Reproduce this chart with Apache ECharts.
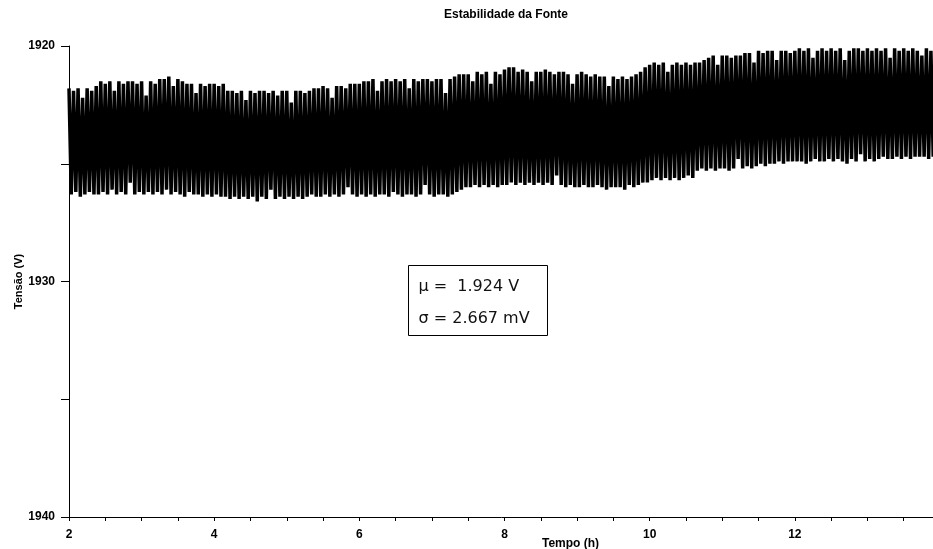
<!DOCTYPE html>
<html>
<head>
<meta charset="utf-8">
<script src="https://cdn.jsdelivr.net/npm/echarts@6/dist/echarts.min.js"></script>
<style>
  html, body { margin: 0; padding: 0; background: #fff; }
  #chart { width: 933px; height: 549px; }
</style>
</head>
<body>
<div id="chart"></div>
<script>
// amostras a cada 1/32 h, começando em t = 2 h
const t0 = 2;
const dt = 1 / 32;

// Tensão, em blocos de 2 h
const tensao2a4 = [
  1921.8, 1926.3, 1921.9, 1926.2, 1921.8, 1926.4, 1922.2, 1926.3, 1921.8, 1926.2, 1921.9, 1926.3, 1921.7, 1926.3, 1921.5, 1926.2,
  1921.6, 1926.3, 1921.5, 1926.1, 1921.9, 1926.3, 1921.5, 1926.2, 1921.6, 1926.3, 1921.5, 1925.8, 1921.5, 1926.3, 1921.6, 1926.2,
  1921.5, 1926.3, 1922.1, 1926.2, 1921.5, 1926.3, 1921.6, 1926.2, 1921.4, 1926.3, 1921.4, 1926.1, 1921.3, 1926.3, 1921.7, 1926.2,
  1921.4, 1926.3, 1921.5, 1926.4, 1921.6, 1926.2, 1921.6, 1926.3, 1922.0, 1926.3, 1921.6, 1926.4, 1921.7, 1926.3, 1921.6, 1926.4
];
const tensao4a6 = [
  1921.6, 1926.3, 1921.7, 1926.4, 1921.6, 1926.4, 1921.9, 1926.5, 1921.9, 1926.4, 1922.0, 1926.5, 1921.9, 1926.4, 1922.3, 1926.5,
  1921.9, 1926.4, 1922.0, 1926.6, 1921.9, 1926.4, 1921.9, 1926.5, 1922.0, 1926.1, 1921.9, 1926.5, 1922.1, 1926.4, 1921.9, 1926.5,
  1921.9, 1926.4, 1922.4, 1926.5, 1921.9, 1926.4, 1921.9, 1926.5, 1922.0, 1926.4, 1921.9, 1926.3, 1921.8, 1926.4, 1921.8, 1926.4,
  1921.7, 1926.3, 1921.8, 1926.4, 1922.2, 1926.3, 1921.7, 1926.4, 1921.7, 1926.3, 1921.8, 1926.0, 1921.6, 1926.3, 1921.6, 1926.4
];
const tensao6a8 = [
  1921.6, 1926.3, 1921.5, 1926.4, 1921.5, 1926.3, 1921.4, 1926.4, 1921.9, 1926.3, 1921.5, 1926.3, 1921.4, 1926.4, 1921.5, 1926.2,
  1921.4, 1926.3, 1921.5, 1926.4, 1921.4, 1926.3, 1921.8, 1926.3, 1921.4, 1926.4, 1921.5, 1926.3, 1921.4, 1925.9, 1921.4, 1926.3,
  1921.5, 1926.4, 1921.4, 1926.3, 1921.4, 1926.3, 1922.0, 1926.4, 1921.4, 1926.3, 1921.3, 1926.2, 1921.2, 1926.1, 1921.2, 1926.0,
  1921.2, 1926.0, 1921.5, 1925.9, 1921.1, 1926.0, 1921.2, 1925.9, 1921.1, 1926.0, 1921.6, 1925.9, 1921.1, 1926.0, 1921.2, 1925.9
];
const tensao8a10 = [
  1921.0, 1925.9, 1920.9, 1925.8, 1920.9, 1925.9, 1921.1, 1925.8, 1921.0, 1925.9, 1921.1, 1925.8, 1921.5, 1925.9, 1921.1, 1925.8,
  1921.1, 1925.9, 1921.0, 1925.8, 1921.1, 1925.9, 1921.2, 1925.5, 1921.1, 1925.9, 1921.1, 1926.0, 1921.2, 1925.9, 1921.6, 1926.0,
  1921.2, 1926.0, 1921.1, 1925.9, 1921.2, 1926.0, 1921.3, 1926.0, 1921.2, 1925.9, 1921.3, 1926.0, 1921.3, 1926.1, 1921.7, 1926.0,
  1921.3, 1926.0, 1921.4, 1926.0, 1921.3, 1926.1, 1921.4, 1925.9, 1921.3, 1926.0, 1921.2, 1925.9, 1921.1, 1925.8, 1920.9, 1925.8
];
const tensao10a12 = [
  1920.8, 1925.7, 1920.7, 1925.6, 1920.8, 1925.7, 1920.7, 1925.6, 1921.1, 1925.7, 1920.8, 1925.6, 1920.7, 1925.7, 1920.8, 1925.6,
  1920.7, 1925.5, 1920.8, 1925.6, 1920.7, 1925.3, 1920.7, 1925.2, 1920.6, 1925.3, 1920.5, 1925.2, 1920.4, 1925.3, 1920.8, 1925.2,
  1920.4, 1925.2, 1920.4, 1925.3, 1920.5, 1925.2, 1920.4, 1924.8, 1920.4, 1925.2, 1920.3, 1925.1, 1920.3, 1925.2, 1920.7, 1925.1,
  1920.2, 1925.0, 1920.3, 1925.1, 1920.2, 1925.0, 1920.2, 1925.0, 1920.6, 1924.9, 1920.2, 1925.0, 1920.2, 1924.9, 1920.3, 1924.9
];
const tensao12a14 = [
  1920.2, 1924.9, 1920.1, 1924.9, 1920.2, 1925.0, 1920.1, 1924.9, 1920.5, 1924.8, 1920.2, 1924.9, 1920.1, 1924.9, 1920.2, 1924.8,
  1920.1, 1924.9, 1920.2, 1924.8, 1920.1, 1924.9, 1920.6, 1925.0, 1920.2, 1924.8, 1920.1, 1924.9, 1920.1, 1924.6, 1920.2, 1924.9,
  1920.1, 1924.8, 1920.2, 1924.9, 1920.1, 1924.8, 1920.2, 1924.7, 1920.1, 1924.8, 1920.5, 1924.8, 1920.1, 1924.7, 1920.2, 1924.8,
  1920.1, 1924.7, 1920.2, 1924.8, 1920.1, 1924.7, 1920.2, 1924.7, 1920.4, 1924.7, 1920.1, 1924.8, 1920.2, 1924.7, 1920.1, 1924.7
];

const yTicks = [1920, 1930, 1940];
const xTicks = [2, 4, 6, 8, 10, 12, 14];
const textoMedia = 'μ =  1.924 V';
const textoDesvio = 'σ = 2.667 mV';

const tensao = [].concat(tensao2a4, tensao4a6, tensao6a8, tensao8a10, tensao10a12, tensao12a14);
let dados = [];
for (let i = 0; i < tensao.length; i++) {
  dados.push([t0 + i * dt, tensao[i]]);
}

const fonteEixo = '"Liberation Sans", Arial, sans-serif';

let option = {
  backgroundColor: '#fff',
  animation: false,
  title: {
    text: 'Estabilidade da Fonte',
    left: 501,
    top: 4,
    textAlign: 'center',
    textStyle: { fontFamily: fonteEixo, fontSize: 12, fontWeight: 'bold', color: '#000' }
  },
  grid: { left: 69, right: -7, top: 46, bottom: 32, containLabel: false, outerBoundsMode: 'none' },
  xAxis: {
    type: 'value',
    min: 2,
    max: 14,
    interval: 0.5,
    name: 'Tempo (h)',
    nameLocation: 'middle',
    nameGap: 21,
    nameMoveOverlap: false,
    nameTextStyle: { fontFamily: fonteEixo, fontSize: 12, fontWeight: 'bold', color: '#000', padding: [0, 0, 0, 132] },
    splitLine: { show: false },
    axisLine: { lineStyle: { color: '#000', width: 1 } },
    axisTick: { inside: false, length: 4, lineStyle: { color: '#000' } },
    axisLabel: {
      color: '#000',
      fontFamily: fonteEixo,
      fontSize: 12,
      fontWeight: 'bold',
      margin: 12,
      formatter: function (v) { return xTicks.indexOf(v) >= 0 ? String(v) : ''; }
    }
  },
  yAxis: {
    type: 'value',
    inverse: true,
    min: 1920,
    max: 1940,
    interval: 5,
    name: 'Tensão (V)',
    nameLocation: 'middle',
    nameGap: 45,
    nameMoveOverlap: false,
    nameRotate: 90,
    nameTextStyle: { fontFamily: fonteEixo, fontSize: 11, fontWeight: 'bold', color: '#000' },
    splitLine: { show: false },
    axisLine: { show: true, lineStyle: { color: '#000', width: 1 } },
    axisTick: { inside: false, length: 8, lineStyle: { color: '#000' } },
    axisLabel: {
      color: '#000',
      fontFamily: fonteEixo,
      fontSize: 12,
      fontWeight: 'bold',
      margin: 14,
      formatter: function (v) { return yTicks.indexOf(v) >= 0 ? String(v) : ''; }
    }
  },
  graphic: [{
    type: 'group',
    left: 408,
    top: 265,
    children: [{
      type: 'rect',
      shape: { x: 0, y: 0, width: 139, height: 70 },
      style: { fill: '#fff', stroke: '#000', lineWidth: 1 }
    }, {
      type: 'text',
      x: 10,
      y: 13,
      style: { text: textoMedia, font: '16px "DejaVu Sans", sans-serif', fill: '#111' }
    }, {
      type: 'text',
      x: 10,
      y: 45,
      style: { text: textoDesvio, font: '16px "DejaVu Sans", sans-serif', fill: '#111' }
    }]
  }],
  series: [{
    name: 'Tensão',
    type: 'line',
    data: dados,
    showSymbol: false,
    symbol: 'none',
    lineStyle: { color: '#000', width: 3.5, join: 'bevel', cap: 'butt' },
    z: 2
  }]
};

const myChart = echarts.init(document.getElementById('chart'));
myChart.setOption(option);
</script>
</body>
</html>
